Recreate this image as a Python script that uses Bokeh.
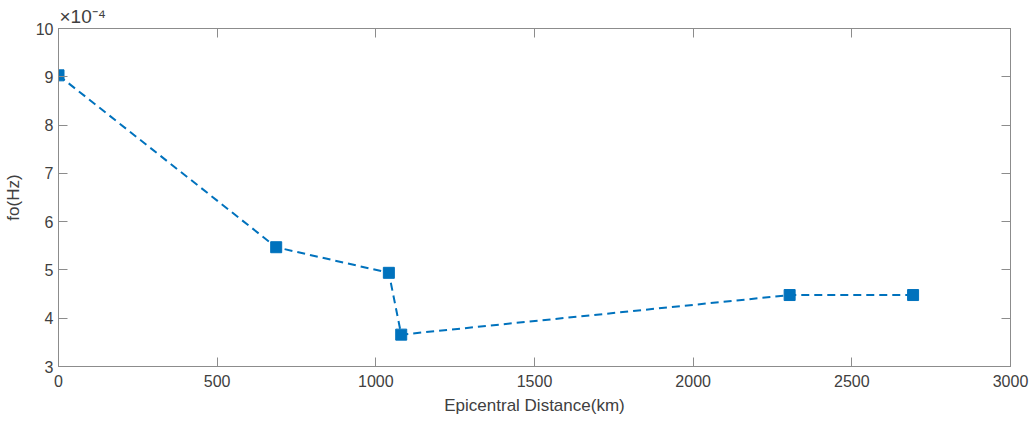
from bokeh.plotting import figure
from bokeh.models import (Range1d, FixedTicker, CustomJSTickFormatter, LinearAxis,
                          ColumnDataSource)
from bokeh.embed import file_html
from bokeh.resources import INLINE

# Corner frequency versus epicentral distance
distance_km = [0, 686, 1041, 1080, 2304, 2693]
fo_hz = [9.03e-4, 5.47e-4, 4.94e-4, 3.66e-4, 4.48e-4, 4.48e-4]

x_ticks = [0, 500, 1000, 1500, 2000, 2500, 3000]
y_ticks = [3e-4, 4e-4, 5e-4, 6e-4, 7e-4, 8e-4, 9e-4, 10e-4]
y_multiplier = "\u00d710\u207b\u2074"

FONT = "Liberation Sans"
AX_COLOR = "#8c8c8c"
TXT_COLOR = "#404040"
BLUE = "#0072BD"

src = ColumnDataSource(dict(x=distance_km, y=fo_hz))

p = figure(width=1033, height=423, output_backend="svg", toolbar_location=None,
           x_range=Range1d(0, 3000), y_range=Range1d(3e-4, 10e-4),
           min_border_left=58, min_border_right=23, min_border_top=28,
           min_border_bottom=57, background_fill_color="white",
           border_fill_color="white")
p.grid.visible = False
p.outline_line_color = AX_COLOR
p.outline_line_width = 1

# exponent shown above the y axis, as in a scaled axis
p.title.text = y_multiplier
p.title.align = "left"
p.title.offset = 1
p.title.standoff = 3
p.title.text_font = FONT
p.title.text_font_size = "19px"
p.title.text_font_style = "normal"
p.title.text_color = TXT_COLOR

scaled = CustomJSTickFormatter(code="return Math.round(tick * 1e4).toString();")

def style_axis(ax, labels=True):
    ax.axis_line_color = AX_COLOR
    ax.major_tick_line_color = AX_COLOR
    ax.major_tick_in = 9
    ax.major_tick_out = 0
    ax.minor_tick_line_color = None
    ax.major_label_text_font = FONT
    ax.major_label_text_font_size = "16px"
    ax.major_label_text_color = TXT_COLOR
    ax.axis_label_text_font = FONT
    ax.axis_label_text_font_size = "17px"
    ax.axis_label_text_font_style = "normal"
    ax.axis_label_text_color = TXT_COLOR
    if not labels:
        ax.major_label_text_font_size = "0px"
        ax.major_label_text_color = None
        ax.major_label_standoff = 0

xa = p.xaxis[0]
xa.ticker = FixedTicker(ticks=x_ticks)
xa.axis_label = "Epicentral Distance(km)"
style_axis(xa)
xa.major_label_standoff = 8
xa.axis_label_standoff = 6

ya = p.yaxis[0]
ya.ticker = FixedTicker(ticks=y_ticks)
ya.formatter = scaled
ya.axis_label = "fo(Hz)"
style_axis(ya)
ya.major_label_standoff = 5
ya.axis_label_standoff = 10

top = LinearAxis(ticker=FixedTicker(ticks=x_ticks))
style_axis(top, labels=False)
p.add_layout(top, "above")
right = LinearAxis(ticker=FixedTicker(ticks=y_ticks))
style_axis(right, labels=False)
p.add_layout(right, "right")

p.line("x", "y", source=src, line_color=BLUE, line_width=2, line_dash="8 5")
p.scatter("x", "y", source=src, marker="square", size=11, fill_color=BLUE,
          line_color=BLUE)

open("out.html", "w").write(file_html(p, INLINE))
